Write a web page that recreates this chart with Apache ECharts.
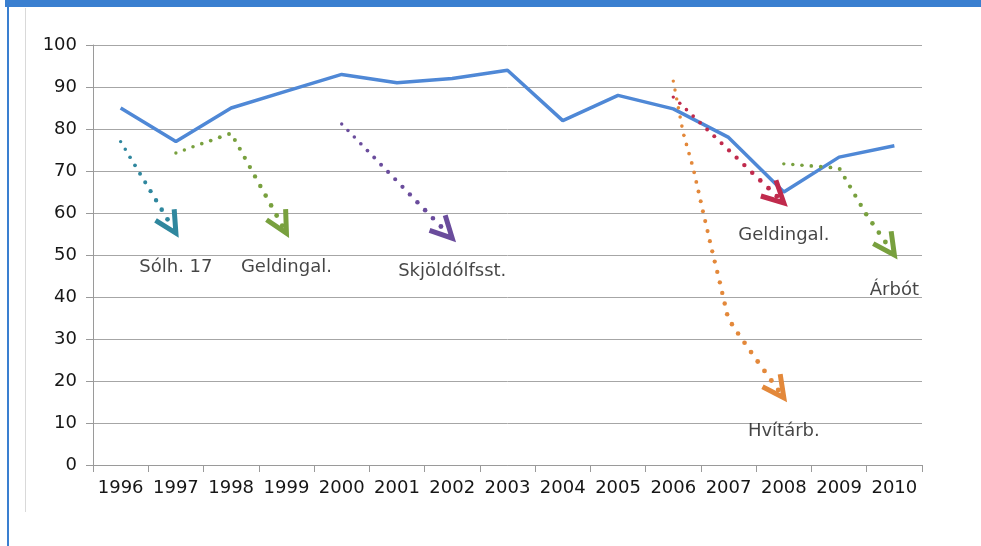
<!DOCTYPE html>
<html>
<head>
<meta charset="utf-8">
<script src="https://cdn.jsdelivr.net/npm/echarts@6/dist/echarts.min.js"></script>
<style>
  html, body { margin: 0; padding: 0; background: #fff; }
  #chart { width: 981px; height: 546px; }
</style>
</head>
<body>
<div id="chart"></div>
<script>
// ár og meginferill
const years = ['1996', '1997', '1998', '1999', '2000', '2001', '2002', '2003', '2004', '2005', '2006', '2007', '2008', '2009', '2010'];
const mainValues = [85, 77, 85, 89, 93, 91, 92, 94, 82, 88, 84.8, 78, 65, 73.3, 76];

// örvar (ár, gildi)
const arrowSolh = [[1996, 77], [1997, 55.2]];
const arrowGeld1 = [[1997, 74.3], [1998, 79], [1999, 55.2]];
const arrowSkjold = [[2000, 81.2], [2002, 54]];
const arrowGeld2 = [[2006, 87.6], [2008, 62.4]];
const arrowHvit = [[2006, 91.4], [2006.18, 79], [2006.36, 70.7], [2006.54, 60.2], [2006.72, 50], [2006.84, 43.6], [2006.99, 35], [2007.13, 32.1], [2007.48, 25.5], [2008, 16]];
const arrowArbot = [[2008, 71.7], [2008.5, 71.2], [2009, 70.7], [2009.5, 59.5], [2010, 50]];

// textar við örvar
const labelNames = ['Sólh. 17', 'Geldingal.', 'Skjöldólfsst.', 'Geldingal.', 'Árbót', 'Hvítárb.'];
const labelPos = [[1997, 47.1], [1999, 47.1], [2002, 46], [2008, 54.8], [2010, 41.7], [2008, 7.9]];

const arrowPaths = [arrowSolh, arrowGeld1, arrowSkjold, arrowGeld2, arrowHvit, arrowArbot];
const arrowColors = ['#2f879e', '#78a03e', '#6a4c9c', '#c02a4c', '#e3883a', '#78a03e'];

const FONT = 'DejaVu Sans';
const TXT = '#161616';

function renderArrow(params, api) {
  const pts = arrowPaths[params.dataIndex].map(p => api.coord(p));
  const color = arrowColors[params.dataIndex];
  const lens = [0];
  for (let i = 1; i < pts.length; i++) {
    const dx = pts[i][0] - pts[i - 1][0], dy = pts[i][1] - pts[i - 1][1];
    lens.push(lens[i - 1] + Math.sqrt(dx * dx + dy * dy));
  }
  const total = lens[lens.length - 1];
  function pointAt(s) {
    for (let i = 1; i < pts.length; i++) {
      if (s <= lens[i] || i === pts.length - 1) {
        const t = (s - lens[i - 1]) / (lens[i] - lens[i - 1] || 1);
        return [pts[i - 1][0] + (pts[i][0] - pts[i - 1][0]) * t, pts[i - 1][1] + (pts[i][1] - pts[i - 1][1]) * t];
      }
    }
    return pts[pts.length - 1];
  }
  const children = [];
  let s = 0;
  while (s < total - 8) {
    const k = s / total;
    const r = 1.7 + 0.8 * k;
    const p = pointAt(s);
    children.push({ type: 'circle', shape: { cx: p[0], cy: p[1], r: r }, style: { fill: color } });
    s += 9 + 3 * k;
  }
  const tip = pts[pts.length - 1];
  const back = pointAt(Math.max(0, total - 25));
  let bx = back[0] - tip[0], by = back[1] - tip[1];
  const bl = Math.sqrt(bx * bx + by * by) || 1;
  bx /= bl; by /= bl;
  const ang = 27 * Math.PI / 180, len = 24;
  const rot = a => [tip[0] + len * (bx * Math.cos(a) - by * Math.sin(a)), tip[1] + len * (bx * Math.sin(a) + by * Math.cos(a))];
  children.push({
    type: 'polyline',
    shape: { points: [rot(ang), tip, rot(-ang)] },
    style: { stroke: color, lineWidth: 5, fill: null, lineJoin: 'miter', lineCap: 'butt' }
  });
  return { type: 'group', children: children };
}

const chart = echarts.init(document.getElementById('chart'));
chart.setOption({
  animation: false,
  backgroundColor: '#ffffff',
  graphic: [
    { type: 'rect', shape: { x: 5, y: 0, width: 976, height: 7 }, style: { fill: '#3a7fd0' } },
    { type: 'rect', shape: { x: 7, y: 0, width: 2, height: 546 }, style: { fill: '#3a7fd0' } },
    { type: 'rect', shape: { x: 25, y: 8, width: 1, height: 504 }, style: { fill: '#d9d9d9' } }
  ],
  grid: { left: 93, right: 59, top: 45, bottom: 81 },
  xAxis: [
    {
      type: 'category',
      data: years,
      boundaryGap: true,
      axisLine: { lineStyle: { color: '#9a9a9a', width: 1 } },
      axisTick: { show: true, length: 7, lineStyle: { color: '#9a9a9a' } },
      axisLabel: { color: TXT, fontFamily: FONT, fontSize: 18, margin: 14, interval: 0 },
      splitLine: { show: false }
    },
    {
      type: 'value',
      min: 1995.5,
      max: 2010.5,
      show: false,
      splitLine: { show: false }
    }
  ],
  yAxis: {
    type: 'value',
    min: 0,
    max: 100,
    interval: 10,
    axisLine: { show: true, lineStyle: { color: '#9a9a9a', width: 1 } },
    axisTick: { show: true, length: 7, lineStyle: { color: '#9a9a9a' } },
    axisLabel: { color: TXT, fontFamily: FONT, fontSize: 18, margin: 16 },
    splitLine: { lineStyle: { color: '#a6a6a6', width: 1 } }
  },
  series: [
    {
      type: 'line',
      data: mainValues,
      symbol: 'none',
      lineStyle: { color: '#4f88d6', width: 3.5 },
      z: 2
    },
    {
      type: 'custom',
      xAxisIndex: 1,
      renderItem: renderArrow,
      data: arrowPaths.map(p => p[0]),
      z: 3
    },
    {
      type: 'scatter',
      xAxisIndex: 1,
      symbolSize: 0,
      data: labelPos.map((p, i) => ({ value: p, name: labelNames[i] })),
      label: {
        show: true,
        position: 'inside',
        formatter: '{b}',
        color: TXT,
        fontFamily: FONT,
        fontSize: 18
      },
      z: 4
    }
  ]
});
</script>
</body>
</html>
